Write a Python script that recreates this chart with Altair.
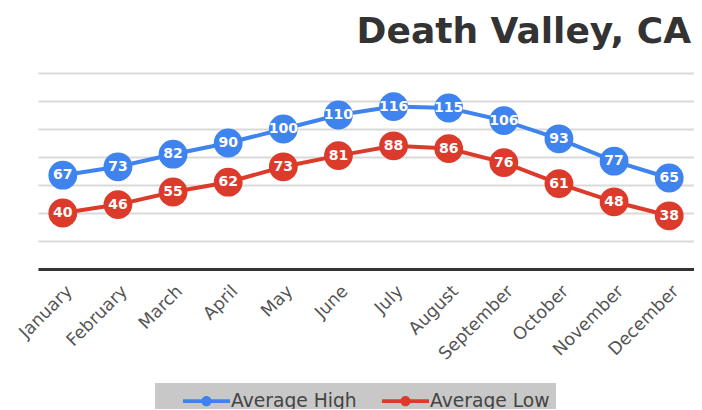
import altair as alt
import pandas as pd

months = ["January", "February", "March", "April", "May", "June", "July",
          "August", "September", "October", "November", "December"]
high = [67, 73, 82, 90, 100, 110, 116, 115, 106, 93, 77, 65]
low = [40, 46, 55, 62, 73, 81, 88, 86, 76, 61, 48, 38]
series_names = ["Average High", "Average Low"]
colors = ["#3F83EE", "#DC3B2C"]
y_ticks = [0, 20, 40, 60, 80, 100, 120, 140]

rows = []
for m, h, l in zip(months, high, low):
    rows.append({"month": m, "series": series_names[0], "temp": h})
    rows.append({"month": m, "series": series_names[1], "temp": l})
df = pd.DataFrame(rows)

# line-with-dot legend glyph (unit path, scaled by symbolSize)
legend_symbol = ("M0.83,-0.15H4.75V0.15H0.83Z "
                 "M3.21,0A0.42,0.42 0 1,1 2.37,0A0.42,0.42 0 1,1 3.21,0Z")

x = alt.X("month:N", sort=months,
          scale=alt.Scale(type="point", padding=0.45),
          axis=alt.Axis(title=None, labelAngle=-45, labelFontSize=17.5,
                        labelColor="#555555", labelFont="DejaVu Sans",
                        labelPadding=13, ticks=False, grid=False,
                        domainColor="#333333", domainWidth=3))
y = alt.Y("temp:Q",
          scale=alt.Scale(domain=[0, 140], nice=False, zero=True),
          axis=alt.Axis(title=None, values=y_ticks, labels=False, ticks=False,
                        domain=False, grid=True, gridColor="#d9d9d9",
                        gridWidth=2))

legend = alt.Legend(orient="none", legendX=117, legendY=310,
                    direction="horizontal", title=None,
                    symbolType=legend_symbol, symbolSize=576,
                    symbolStrokeWidth=0, symbolOpacity=1,
                    labelFontSize=18.7, labelColor="#444444",
                    labelFont="DejaVu Sans", labelOffset=46,
                    fillColor="#c8c8c8", padding=6, columnPadding=3)
color = alt.Color("series:N",
                  scale=alt.Scale(domain=series_names, range=colors),
                  legend=legend)

base = alt.Chart(df).encode(x=x, y=y, color=color)

lines = base.mark_line(strokeWidth=4)
dots = base.mark_circle(size=830, opacity=1)
labels = base.mark_text(fontSize=14, fontWeight="bold", font="DejaVu Sans",
                        baseline="middle", align="center").encode(
    text="temp:Q", color=alt.value("white"))

chart = (lines + dots + labels).properties(
    width=656, height=196,
    title=alt.TitleParams("Death Valley, CA", anchor="end", fontSize=36,
                          font="DejaVu Sans", fontWeight="bold",
                          color="#333333", offset=22, dx=-3),
    padding={"left": 30, "top": 65, "right": 0, "bottom": 140},
    autosize=alt.AutoSizeParams(type="none"),
).configure_view(stroke=None)

chart.save("out.html", embed_options={"renderer": "svg", "actions": False})
